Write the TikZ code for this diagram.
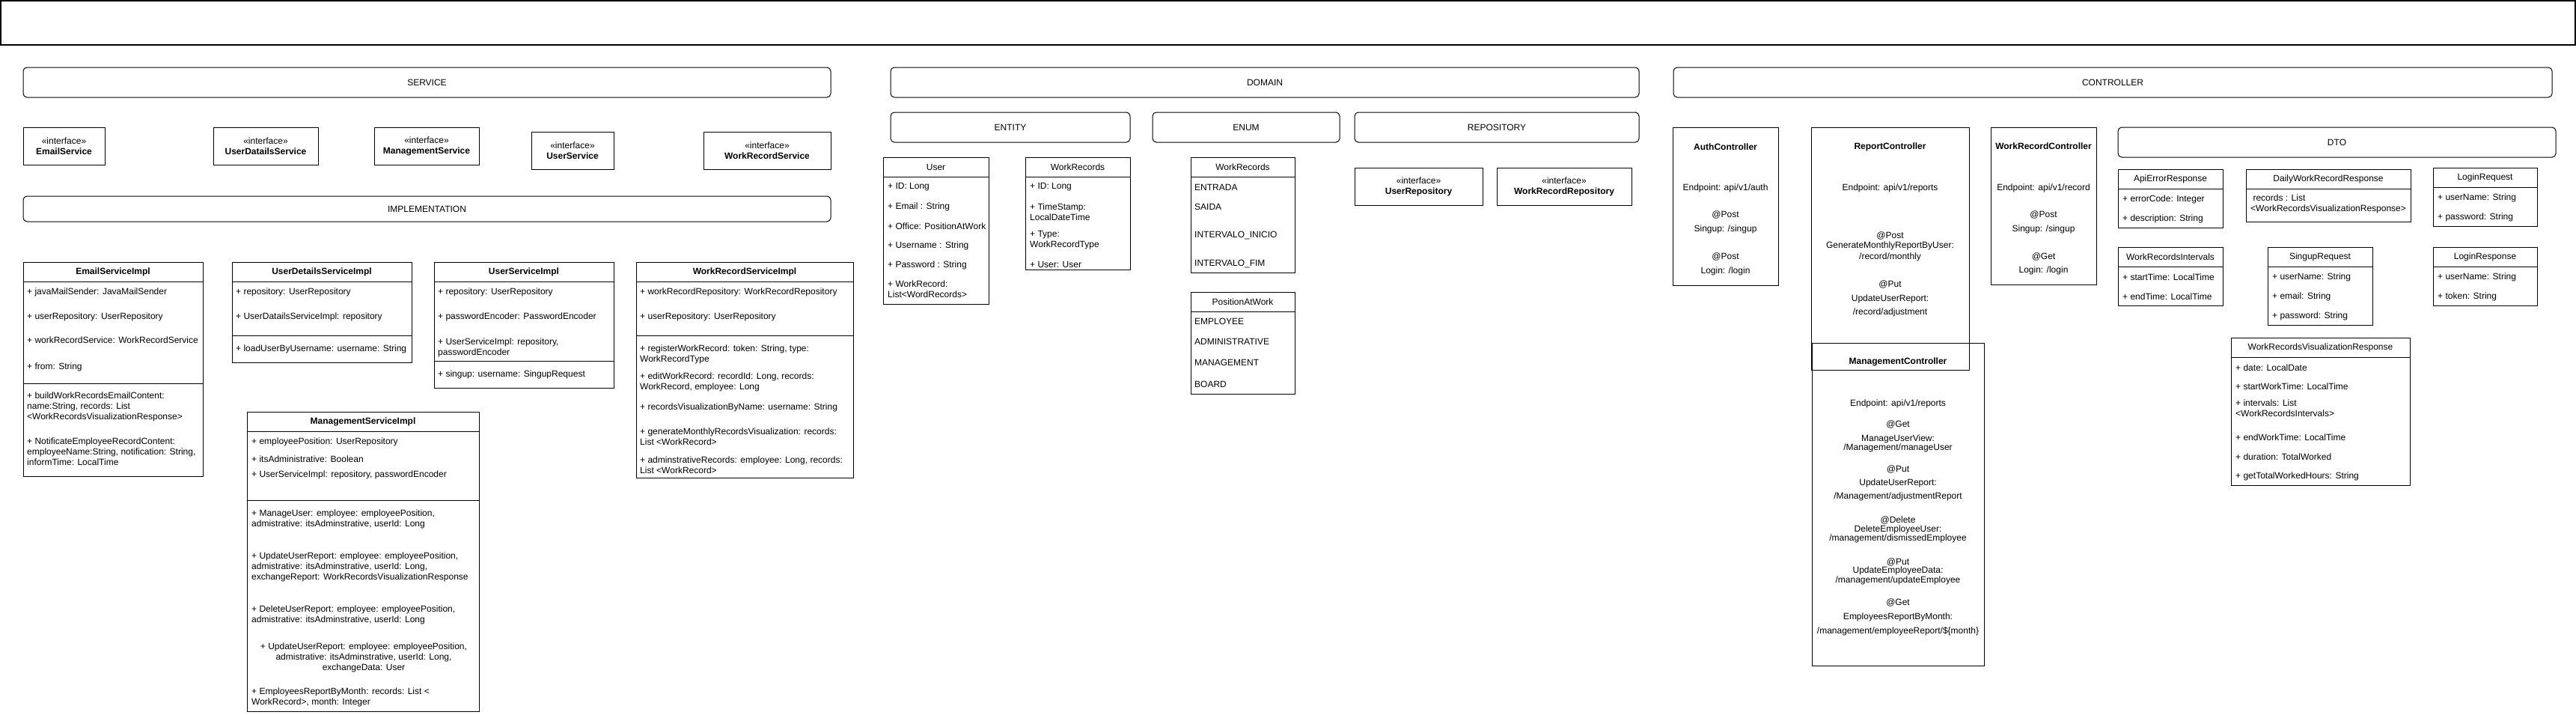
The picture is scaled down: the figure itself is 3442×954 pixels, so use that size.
\documentclass[tikz,border=0pt]{standalone}
\usepackage{fontspec}
\setmainfont{Liberation Sans}

\tikzset{
  every node/.style={font=\fontsize{12}{14}\selectfont, inner sep=0pt},
  pkg/.style={draw, line width=1pt, rounded corners=5pt},
  box/.style={draw, line width=1pt},
  iface/.style={draw, line width=1pt, align=center, minimum height=50pt},
  txt/.style={anchor=west, align=left},
  mid/.style={align=center},
}

\begin{document}
\begin{tikzpicture}[x=1pt,y=-1pt]
\useasboundingbox (0,0) rectangle (3442,954);
\draw[line width=1.2pt] (1,1) rectangle (3441,60);

% service
\node[pkg, minimum width=1079pt, minimum height=40pt] (service) at (570.5,110) {SERVICE};
\node[iface, minimum width=109pt] (emailsvc) at (85.5,195) {«interface»\\\textbf{EmailService}};
\node[iface, minimum width=140pt] (udsvc) at (355,195) {«interface»\\\textbf{UserDatailsService}};
\node[iface, minimum width=140pt] (mgmtsvc) at (570,195) {«interface»\\\textbf{ManagementService}};
\node[iface, minimum width=110pt] (usersvc) at (765,201) {«interface»\\\textbf{UserService}};
\node[iface, minimum width=170pt] (wrsvc) at (1025,201) {«interface»\\\textbf{WorkRecordService}};
\node[pkg, minimum width=1079pt, minimum height=34pt] (impl) at (570.5,279) {IMPLEMENTATION};

% EmailServiceImpl
\draw[box] (31,350) rectangle (271,636);
\draw[box] (31,376) -- (271,376);
\draw[box] (31,512) -- (271,512);
\node (esT) at (151,363) {\textbf{EmailServiceImpl}};
\node[txt] (es1) at (36,390) {+ javaMailSender: JavaMailSender};
\node[txt] (es2) at (36,423) {+ userRepository: UserRepository};
\node[txt] (es3) at (36,454) {+ workRecordService: WorkRecordService};
\node[txt] (es4) at (36,490) {+ from: String};
\node[txt] (es5) at (36,543) {+ buildWorkRecordsEmailContent:\\name:String, records: List\\<WorkRecordsVisualizationResponse>};
\node[txt] (es6) at (36,603) {+ NotificateEmployeeRecordContent:\\employeeName:String, notification: String,\\informTime: LocalTime};

% UserDetailsServiceImpl
\draw[box] (310,350) rectangle (550,484);
\draw[box] (310,376) -- (550,376);
\draw[box] (310,448) -- (550,448);
\node (udT) at (430,363) {\textbf{UserDetailsServiceImpl}};
\node[txt] (ud1) at (315,390) {+ repository: UserRepository};
\node[txt] (ud2) at (315,423) {+ UserDatailsServiceImpl: repository};
\node[txt] (ud3) at (315,466) {+ loadUserByUsername: username: String};

% UserServiceImpl
\draw[box] (580,350) rectangle (820,518);
\draw[box] (580,376) -- (820,376);
\draw[box] (580,482) -- (820,482);
\node (usT) at (700,363) {\textbf{UserServiceImpl}};
\node[txt] (us1) at (585,390) {+ repository: UserRepository};
\node[txt] (us2) at (585,423) {+ passwordEncoder: PasswordEncoder};
\node[txt] (us3) at (585,464.5) {+ UserServiceImpl: repository,\\passwordEncoder};
\node[txt] (us4) at (585,500) {+ singup: username: SingupRequest};

% WorkRecordServiceImpl
\draw[box] (850,350) rectangle (1140,638);
\draw[box] (850,376) -- (1140,376);
\draw[box] (850,448) -- (1140,448);
\node (wsT) at (995,363) {\textbf{WorkRecordServiceImpl}};
\node[txt] (ws1) at (855,390) {+ workRecordRepository: WorkRecordRepository};
\node[txt] (ws2) at (855,423) {+ userRepository: UserRepository};
\node[txt] (ws3) at (855,473) {+ registerWorkRecord: token: String, type:\\WorkRecordType};
\node[txt] (ws4) at (855,510) {+ editWorkRecord: recordId: Long, records:\\WorkRecord, employee: Long};
\node[txt] (ws5) at (855,544) {+ recordsVisualizationByName: username: String};
\node[txt] (ws6) at (855,583) {+ generateMonthlyRecordsVisualization: records:\\List <WorkRecord>};
\node[txt] (ws7) at (855,621) {+ adminstrativeRecords: employee: Long, records:\\List <WorkRecord>};

% ManagementServiceImpl
\draw[box] (330,550) rectangle (640,950);
\draw[box] (330,576) -- (640,576);
\draw[box] (330,668) -- (640,668);
\node (msT) at (485,563) {\textbf{ManagementServiceImpl}};
\node[txt] (ms1) at (336,590) {+ employeePosition: UserRepository};
\node[txt] (ms2) at (336,613) {+ itsAdministrative: Boolean};
\node[txt] (ms3) at (336,634) {+ UserServiceImpl: repository, passwordEncoder};
\node[txt] (ms4) at (336,693) {+ ManageUser: employee: employeePosition,\\admistrative: itsAdminstrative, userId: Long};
\node[txt] (ms5) at (336,757) {+ UpdateUserReport: employee: employeePosition,\\admistrative: itsAdminstrative, userId: Long,\\exchangeReport: WorkRecordsVisualizationResponse};
\node[txt] (ms6) at (336,821) {+ DeleteUserReport: employee: employeePosition,\\admistrative: itsAdminstrative, userId: Long};
\node[mid] (ms7) at (486,878) {+ UpdateUserReport: employee: employeePosition,\\admistrative: itsAdminstrative, userId: Long,\\exchangeData: User};
\node[txt] (ms8) at (336,931) {+ EmployeesReportByMonth: records: List <\\WorkRecord>, month: Integer};

% domain
\node[pkg, minimum width=1000pt, minimum height=40pt] (domain) at (1690,110) {DOMAIN};
\node[pkg, minimum width=320pt, minimum height=40pt] (entity) at (1350,170) {ENTITY};
\node[pkg, minimum width=250pt, minimum height=40pt] (enum) at (1665,170) {ENUM};
\node[pkg, minimum width=380pt, minimum height=40pt] (repo) at (2000,170) {REPOSITORY};

% User
\draw[box] (1180,210) rectangle (1321,406);
\draw[box] (1180,236) -- (1321,236);
\node (uT) at (1250.5,223) {User};
\node[txt] (u1) at (1186,250) {+ ID: Long};
\node[txt] (u2) at (1186,276) {+ Email : String};
\node[txt] (u3) at (1186,302) {+ Office: PositionAtWork};
\node[txt] (u4) at (1186,328) {+ Username : String};
\node[txt] (u5) at (1186,354) {+ Password : String};
\node[txt] (u6) at (1186,386.5) {+ WorkRecord:\\List<WordRecords>};

% WorkRecords entity
\draw[box] (1370,210) rectangle (1510,360);
\draw[box] (1370,236) -- (1510,236);
\node (wT) at (1440,223) {WorkRecords};
\node[txt] (w1) at (1376,250) {+ ID: Long};
\node[txt] (w2) at (1376,283) {+ TimeStamp:\\LocalDateTime};
\node[txt] (w3) at (1376,321) {+ Type:\\WorkRecordType};
\node[txt] (w4) at (1376,353) {+ User: User};

% WorkRecords enum
\draw[box] (1591,210) rectangle (1730,364);
\draw[box] (1591,236) -- (1730,236);
\node (eT) at (1660.5,223) {WorkRecords};
\node[txt] (e1) at (1596,250) {ENTRADA};
\node[txt] (e2) at (1596,276) {SAIDA};
\node[txt] (e3) at (1596,314) {INTERVALO\_INICIO};
\node[txt] (e4) at (1596,352) {INTERVALO\_FIM};

% PositionAtWork
\draw[box] (1591,390) rectangle (1730,526);
\draw[box] (1591,416) -- (1730,416);
\node (pT) at (1660.5,403) {PositionAtWork};
\node[txt] (p1) at (1596,429) {EMPLOYEE};
\node[txt] (p2) at (1596,456) {ADMINISTRATIVE};
\node[txt] (p3) at (1596,484) {MANAGEMENT};
\node[txt] (p4) at (1596,513) {BOARD};

% repositories
\node[iface, minimum width=171pt] (userrepo) at (1895.5,249) {«interface»\\\textbf{UserRepository}};
\node[iface, minimum width=180pt] (wrrepo) at (2090,249) {«interface»\\\textbf{WorkRecordRepository}};

% controller
\node[pkg, minimum width=1174pt, minimum height=40pt] (controller) at (2823,110) {CONTROLLER};

% AuthController
\draw[box] (2235,170) rectangle (2376,381);
\node (aT) at (2305.5,196) {\textbf{AuthController}};
\node (a1) at (2305.5,251) {Endpoint: api/v1/auth};
\node (a2) at (2305.5,287) {@Post};
\node (a3) at (2305.5,306) {Singup: /singup};
\node (a4) at (2305.5,343) {@Post};
\node (a5) at (2305.5,362) {Login: /login};

% ReportController
\draw[box] (2420,170) rectangle (2631,494);
\node (rT) at (2525.5,196) {\textbf{ReportController}};
\node (r1) at (2525.5,251) {Endpoint: api/v1/reports};
\node (r2) at (2525.5,315) {@Post};
\node (r3) at (2525.5,328) {GenerateMonthlyReportByUser:};
\node (r4) at (2525.5,343) {/record/monthly};
\node (r5) at (2525.5,380) {@Put};
\node (r6) at (2525.5,399) {UpdateUserReport:};
\node (r7) at (2525.5,417) {/record/adjustment};

% WorkRecordController
\draw[box] (2660,170) rectangle (2801,380);
\node (wcT) at (2730.5,195) {\textbf{WorkRecordController}};
\node (wc1) at (2730.5,251) {Endpoint: api/v1/record};
\node (wc2) at (2730.5,287) {@Post};
\node (wc3) at (2730.5,306) {Singup: /singup};
\node (wc4) at (2730.5,343) {@Get};
\node (wc5) at (2730.5,361) {Login: /login};

% ManagementController
\draw[box] (2421,458) rectangle (2651,889);
\node (mcT) at (2536,483) {\textbf{ManagementController}};
\node (mc1) at (2536,539) {Endpoint: api/v1/reports};
\node (mc2) at (2536,567) {@Get};
\node (mc3) at (2536,586) {ManageUserView:};
\node (mc4) at (2536,598) {/Management/manageUser};
\node (mc5) at (2536,627) {@Put};
\node (mc6) at (2536,645) {UpdateUserReport:};
\node (mc7) at (2536,663) {/Management/adjustmentReport};
\node (mc8) at (2536,695) {@Delete};
\node (mc9) at (2536,707) {DeleteEmployeeUser:};
\node (mc10) at (2536,719) {/management/dismissedEmployee};
\node (mc11) at (2536,751) {@Put};
\node (mc12) at (2536,762) {UpdateEmployeeData:};
\node (mc13) at (2536,775) {/management/updateEmployee};
\node (mc14) at (2536,805) {@Get};
\node (mc15) at (2536,824) {EmployeesReportByMonth:};
\node (mc16) at (2536,843) {/management/employeeReport/\$\{month\}};

% dto
\node[pkg, minimum width=585pt, minimum height=40pt] (dto) at (3122.5,190) {DTO};

% ApiErrorResponse
\draw[box] (2830,226) rectangle (2970,304);
\draw[box] (2830,252) -- (2970,252);
\node (apT) at (2900,239) {ApiErrorResponse};
\node[txt] (ap1) at (2836,266) {+ errorCode: Integer};
\node[txt] (ap2) at (2836,292) {+ description: String};

% DailyWorkRecordResponse
\draw[box] (3001,226) rectangle (3221,296);
\draw[box] (3001,252) -- (3221,252);
\node (dwT) at (3111,239) {DailyWorkRecordResponse};
\node[txt] (dw1) at (3007,272.5) {\ records : List\\<WorkRecordsVisualizationResponse>};

% LoginRequest
\draw[box] (3251,224) rectangle (3390,302);
\draw[box] (3251,250) -- (3390,250);
\node (lqT) at (3320.5,237) {LoginRequest};
\node[txt] (lq1) at (3257,264) {+ userName: String};
\node[txt] (lq2) at (3257,290) {+ password: String};

% WorkRecordsIntervals
\draw[box] (2830,330) rectangle (2970,408);
\draw[box] (2830,356) -- (2970,356);
\node (wiT) at (2900,343) {WorkRecordsIntervals};
\node[txt] (wi1) at (2836,370) {+ startTime: LocalTime};
\node[txt] (wi2) at (2836,396) {+ endTime: LocalTime};

% SingupRequest
\draw[box] (3030,330) rectangle (3170,434);
\draw[box] (3030,356) -- (3170,356);
\node (sqT) at (3100,343) {SingupRequest};
\node[txt] (sq1) at (3036,370) {+ userName: String};
\node[txt] (sq2) at (3036,396) {+ email: String};
\node[txt] (sq3) at (3036,422) {+ password: String};

% LoginResponse
\draw[box] (3251,330) rectangle (3390,408);
\draw[box] (3251,356) -- (3390,356);
\node (lsT) at (3320.5,343) {LoginResponse};
\node[txt] (ls1) at (3257,370) {+ userName: String};
\node[txt] (ls2) at (3257,396) {+ token: String};

% WorkRecordsVisualizationResponse
\draw[box] (2981,451) rectangle (3220,648);
\draw[box] (2981,477) -- (3220,477);
\node (vrT) at (3100.5,464) {WorkRecordsVisualizationResponse};
\node[txt] (vr1) at (2987,491) {+ date: LocalDate};
\node[txt] (vr2) at (2987,516) {+ startWorkTime: LocalTime};
\node[txt] (vr3) at (2987,545) {+ intervals: List\\<WorkRecordsIntervals>};
\node[txt] (vr4) at (2987,584) {+ endWorkTime: LocalTime};
\node[txt] (vr5) at (2987,610) {+ duration: TotalWorked};
\node[txt] (vr6) at (2987,636) {+ getTotalWorkedHours: String};
\end{tikzpicture}
\end{document}
